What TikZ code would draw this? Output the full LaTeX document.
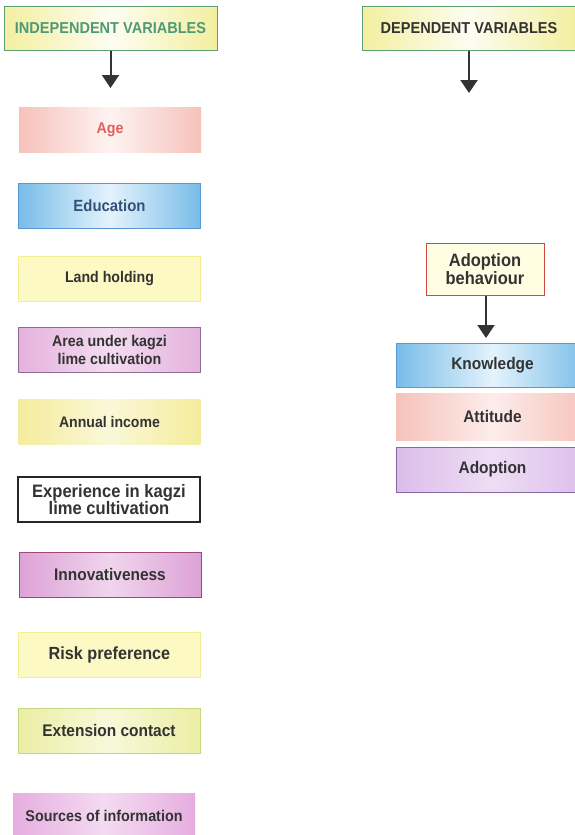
\documentclass[tikz,border=0pt]{standalone}
\usepackage{fontspec}
\setmainfont[FakeStretch=0.92]{Liberation Sans}
\usetikzlibrary{arrows.meta}
\definecolor{txt}{HTML}{333333}
\definecolor{arrc}{HTML}{333333}
\definecolor{hdrfill}{HTML}{F3EFA0}
\definecolor{hdrline}{HTML}{5E9E74}
\definecolor{hdrtxt}{HTML}{4E9A78}
\definecolor{pinkE}{HTML}{F6C2BA}
\definecolor{agetxt}{HTML}{E0605A}
\definecolor{blueE}{HTML}{78BCE8}
\definecolor{blueM}{HTML}{E4F3FC}
\definecolor{blueL}{HTML}{5A98D6}
\definecolor{edutxt}{HTML}{34507A}
\definecolor{pyel}{HTML}{FCF9C4}
\definecolor{pyelL}{HTML}{F2EE94}
\definecolor{purpE}{HTML}{E4B2DE}
\definecolor{purpL}{HTML}{8C6C92}
\definecolor{yelE}{HTML}{F4EC9C}
\definecolor{magE}{HTML}{DDA2D6}
\definecolor{magL}{HTML}{A04678}
\definecolor{gyE}{HTML}{ECEEA4}
\definecolor{gyL}{HTML}{C4D680}
\definecolor{srcE}{HTML}{E6AEE0}
\definecolor{abfill}{HTML}{FFFDE2}
\definecolor{abline}{HTML}{D04A44}
\definecolor{lavE}{HTML}{DCBCEA}
\definecolor{lavL}{HTML}{8666A6}
\tikzset{
  box/.style={rectangle, minimum width=182pt, minimum height=45pt, inner sep=0pt,
    text=txt, align=center, line width=1pt},
  fs/.style={font=\bfseries\fontsize{#1}{17.5}\selectfont},
  hdr/.style={box, minimum width=213pt, minimum height=44pt, draw=hdrline,
    left color=hdrfill, right color=hdrfill, middle color=white!85!hdrfill},
  arr/.style={line width=2pt, draw=arrc, -{Triangle[width=17pt,length=13pt]}},
}
\begin{document}
\begin{tikzpicture}[x=1pt,y=-1pt]
\clip (0,0) rectangle (575,835);
\fill[white] (0,0) rectangle (575,835);
% headers
\node[hdr, fs=15.8, text=hdrtxt] (indep) at (110.5,28) {INDEPENDENT VARIABLES};
\node[hdr, fs=15.8] (dep) at (469,28) {DEPENDENT VARIABLES};
\coordinate (indepTip) at (110.5,88);
\coordinate (depTip) at (469,93);
\draw[arr] (indep.south) -- (indepTip);
\draw[arr] (dep.south) -- (depTip);
% independent variables
\node[box, fs=15.5, text=agetxt, left color=pinkE, right color=pinkE, middle color=white!80!pinkE] (age) at (110,129.5) {Age};
\node[box, fs=16.2, text=edutxt, draw=blueL, left color=blueE, right color=blueE, middle color=blueM] (edu) at (109.5,205.5) {Education};
\node[box, fs=15.4, draw=pyelL, fill=pyel] (land) at (109.5,278.5) {Land holding};
\node[box, fs=15.5, draw=purpL, left color=purpE, right color=purpE, middle color=white!55!purpE] (area) at (109.5,350) {Area under kagzi\\lime cultivation};
\node[box, fs=15.3, left color=yelE, right color=yelE, middle color=white!60!yelE] (income) at (109.5,422) {Annual income};
\node[box, fs=18, draw=black!85, line width=1.4pt, fill=white] (exper) at (109,499.5) {Experience in kagzi\\lime cultivation};
\node[box, fs=16.8, draw=magL, left color=magE, right color=magE, middle color=white!55!magE] (innov) at (110,574.5) {Innovativeness};
\node[box, fs=17.6, draw=pyelL, fill=pyel] (risk) at (109.5,654.5) {Risk preference};
\node[box, fs=16.8, draw=gyL, left color=gyE, right color=gyE, middle color=white!60!gyE] (ext) at (109,730.5) {Extension contact};
\node[box, fs=15.6, left color=srcE, right color=srcE, middle color=white!55!srcE] (src) at (104,815.5) {Sources of information};
% dependent variables
\node[box, fs=17.9, minimum width=118pt, minimum height=52pt, draw=abline, fill=abfill] (adb) at (485,269) {Adoption\\behaviour};
\coordinate (adbTip) at (486,338);
\draw[arr] (adb.south -| adbTip) -- (adbTip);
\node[box, fs=16.8, minimum width=193pt, minimum height=44pt, draw=blueL, left color=blueE, right color=blueE, middle color=blueM] (know) at (492.5,365) {Knowledge};
\node[box, fs=16.8, minimum width=193pt, minimum height=47pt, left color=pinkE, right color=pinkE, middle color=white!70!pinkE] (att) at (492.5,416.5) {Attitude};
\node[box, fs=16.8, minimum width=193pt, minimum height=45pt, draw=lavL, left color=lavE, right color=lavE, middle color=white!50!lavE] (adop) at (492.5,469.5) {Adoption};
\end{tikzpicture}
\end{document}
